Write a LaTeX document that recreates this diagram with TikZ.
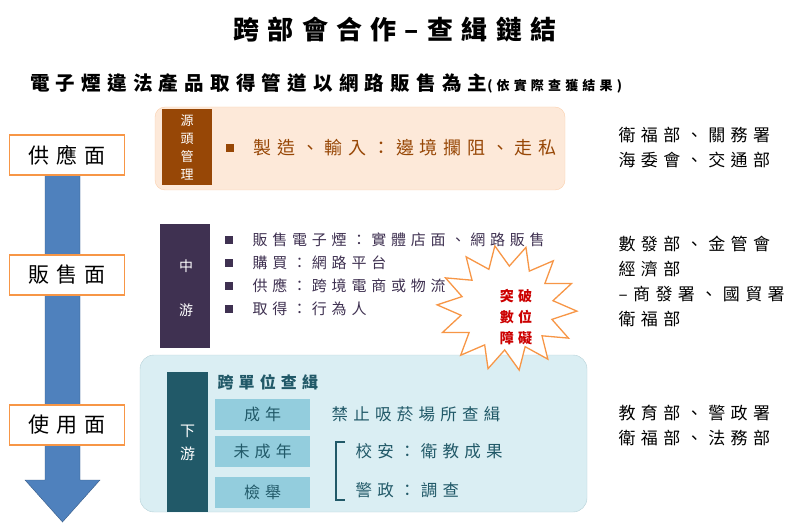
\documentclass[tikz,border=0pt]{standalone}
\usepackage{fontspec}
\setmainfont{Noto Sans CJK TC}[LetterSpace=32]
\usetikzlibrary{shapes.geometric}
\definecolor{peach}{HTML}{FDE9D9}
\definecolor{brn}{HTML}{974706}
\definecolor{purp}{HTML}{3F3151}
\definecolor{lblue}{HTML}{DAEEF3}
\definecolor{teal}{HTML}{215968}
\definecolor{mblue}{HTML}{93CDDD}
\definecolor{orng}{HTML}{F79646}
\definecolor{abl}{HTML}{4F81BD}
\tikzset{face/.style={draw=orng,line width=1.5pt,fill=white,minimum width=115pt,minimum height=40pt,font=\fontsize{21}{21}\selectfont},
 col/.style={minimum width=50pt,anchor=north west,inner sep=0},
 wt/.style={text=white,font=\fontsize{14}{14}\selectfont},
 bul/.style={minimum size=8pt,inner sep=0},
 mtxt/.style={anchor=west,text=purp,font=\fontsize{15}{15}\selectfont},
 tbox/.style={fill=mblue,minimum width=95pt,minimum height=31pt,anchor=north west,inner sep=0,text=teal,font=\fontsize{16}{16}\selectfont},
 ttxt/.style={anchor=west,text=teal,font=\fontsize{16.5}{16.5}\selectfont},
 rtxt/.style={anchor=west,font=\fontsize{17}{17}\selectfont}}
\begin{document}
\begin{tikzpicture}[x=1pt,y=-1pt]
\useasboundingbox (0,0) rectangle (807,524);
\node (title) at (395,30) {\fontsize{26}{26}\selectfont\bfseries 跨部會合作–查緝鏈結};
\node[anchor=west,inner sep=0] (sub) at (30,83) {\fontsize{19.5}{20}\selectfont\bfseries 電子煙違法產品取得管道以網路販售為主{\fontsize{13}{13}\selectfont (依實際查獲結果)}};
% arrow
\draw[fill=abl,draw=abl!70!black] (45,150) -- (80,150) -- (80,480) -- (100,480) -- (62.5,522) -- (25,480) -- (45,480) -- cycle;
\node[face] (s1) at (67,155) {供應面};
\node[face] (s2) at (67,275) {販售面};
\node[face] (s3) at (67,425) {使用面};
% top panel
\draw[fill=peach,draw=peach!70!orng,rounded corners=10pt] (155,107) rectangle (565,190);
\node[col,fill=brn,minimum height=76pt] (c1) at (162,109) {};
\node[wt,align=center,font=\fontsize{13}{18}\selectfont] at (c1.center) {源\\頭\\管\\理};
\node[bul,fill=brn] at (230,148) {};
\node[anchor=west,text=brn,font=\fontsize{18}{18}\selectfont] (t1) at (250,148) {製造、輸入：邊境攔阻、走私};
% middle
\node[col,fill=purp,minimum height=124pt] (c2) at (160,224) {};
\node[wt] at (186,266) {中};
\node[wt] at (186,310) {游};
\foreach \y/\t in {240/販售電子煙：實體店面、網路販售,263/購買：網路平台,286/供應：跨境電商或物流,309/取得：行為人}{
 \node[bul,fill=purp] at (229,\y) {};
 \node[mtxt] at (249,\y) {\t};}
% bottom
\draw[fill=lblue,draw=lblue!80!teal,rounded corners=14pt] (140,355) rectangle (587,512);
\node[col,fill=teal,minimum width=41pt,minimum height=140pt] (c3) at (167,372) {};
\node[wt,align=center,font=\fontsize{15}{23}\selectfont] at (187.5,443) {下\\游};
\node[anchor=west,text=teal,font=\fontsize{16}{16}\selectfont\bfseries] at (214,382) {跨單位查緝};
\node[tbox] (b1) at (215,399) {成年};
\node[tbox] (b2) at (215,436) {未成年};
\node[tbox] (b3) at (215,477) {檢舉};
\node[ttxt] (l1) at (328,414) {禁止吸菸場所查緝};
\draw[teal,line width=2pt] (345,442) -- (336,442) -- (336,500) -- (345,500);
\node[ttxt] (l2) at (352,451) {校安：衛教成果};
\node[ttxt] (l3) at (352,490) {警政：調查};
% star
\node[star,star points=14,star point ratio=1.5,draw=orng,line width=1.3pt,fill=white,minimum size=140pt,yscale=0.9,rotate=10] (st) at (507,308) {};
\node[text=red!80!black,align=center,font=\fontsize{14}{21}\selectfont\bfseries] at (516,317) {突破\\數位\\障礙};
% right
\node[rtxt,align=left,font=\fontsize{17}{25}\selectfont] at (615,148) {衛福部、關務署\\海委會、交通部};
\node[rtxt,align=left,font=\fontsize{17}{25}\selectfont] at (615,281) {數發部、金管會\\經濟部\\–商發署、國貿署\\衛福部};
\node[rtxt,align=left,font=\fontsize{17}{25}\selectfont] at (615,425) {教育部、警政署\\衛福部、法務部};
\end{tikzpicture}
\end{document}
